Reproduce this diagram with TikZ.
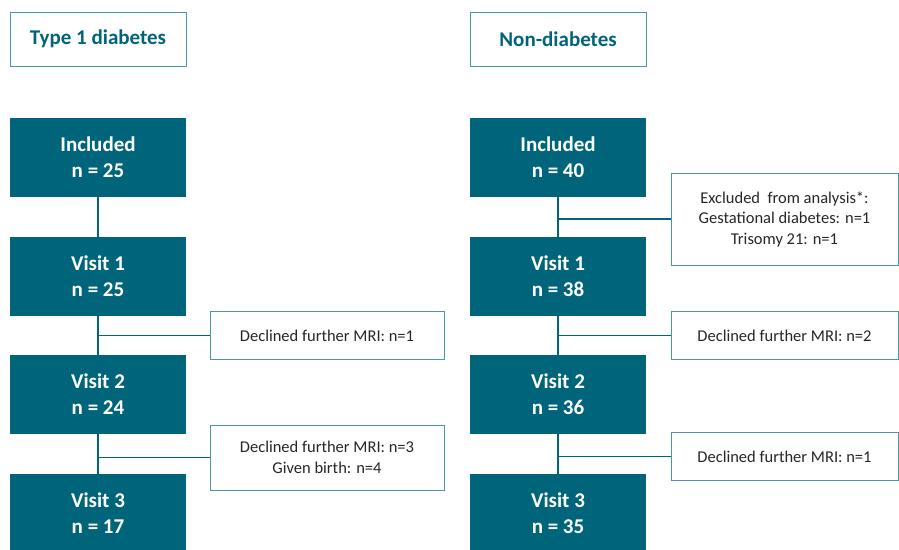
\documentclass[tikz,border=0pt]{standalone}
\usepackage{fontspec}
\setmainfont{Carlito}
\usepackage{tikz}
\definecolor{teal1}{HTML}{00657A}
\definecolor{teal2}{HTML}{4A97A8}
\definecolor{ink}{HTML}{262626}

\begin{document}
\begin{tikzpicture}[x=1pt,y=-1pt]
	\useasboundingbox (0,0) rectangle (899,549);
	\begin{scope}[every node/.style={rectangle,draw=teal2,line width=1pt,fill=white,
		text=teal1,font=\fontsize{21}{26}\selectfont\bfseries,
		minimum width=176pt,minimum height=54pt}]
	\node (T) at (98,39) {Type 1 diabetes};
	\node (N) at (558,39) {Non-diabetes};
	\end{scope}
	\begin{scope}[every node/.style={rectangle,fill=teal1,text=white,align=center,
		font=\fontsize{21}{26}\selectfont\bfseries,
		minimum width=176pt,minimum height=79pt}]
	\node (A) at (98,157.5) {Included\\n = 25};
	\node (B) at (98,276.5) {Visit 1\\n = 25};
	\node (C) at (98,394.5) {Visit 2\\n = 24};
	\node (D) at (98,513.5) {Visit 3\\n = 17};
	\node (E) at (558,157.5) {Included\\n = 40};
	\node (F) at (558,276.5) {Visit 1\\n = 38};
	\node (G) at (558,394.5) {Visit 2\\n = 36};
	\node (H) at (558,513.5) {Visit 3\\n = 35};
	\end{scope}
	\begin{scope}[every node/.style={rectangle,draw=teal2,line width=1pt,fill=white,
		text=ink,align=center,font=\fontsize{16.5}{20.5}\selectfont}]
	\node[minimum width=234pt,minimum height=48pt] (P) at (327,335.5) {Declined further MRI: n=1};
	\node[minimum width=234pt,minimum height=65pt] (Q) at (327,457.5) {Declined further MRI: n=3\\Given birth: n=4};
	\node[minimum width=227pt,minimum height=92pt] (R) at (784.5,219) {Excluded\ \ from analysis*:\\Gestational diabetes: n=1\\Trisomy 21: n=1};
	\node[minimum width=227pt,minimum height=48pt] (S) at (784.5,335.5) {Declined further MRI: n=2};
	\node[minimum width=227pt,minimum height=48pt] (U) at (784.5,456.5) {Declined further MRI: n=1};
	\end{scope}
	\begin{scope}[teal1,line width=1.2pt]
	\draw (A) -- (B);
	\draw (B) -- (C);
	\draw (C) -- (D);
	\draw (E) -- (F);
	\draw (F) -- (G);
	\draw (G) -- (H);
	\draw (P.west) -- (P.west -| A.south);
	\draw (Q.west) -- (Q.west -| A.south);
	\draw (R.west) -- (R.west -| E.south);
	\draw (S.west) -- (S.west -| E.south);
	\draw (U.west) -- (U.west -| E.south);
	\end{scope}
	\end{tikzpicture}
\end{document}
